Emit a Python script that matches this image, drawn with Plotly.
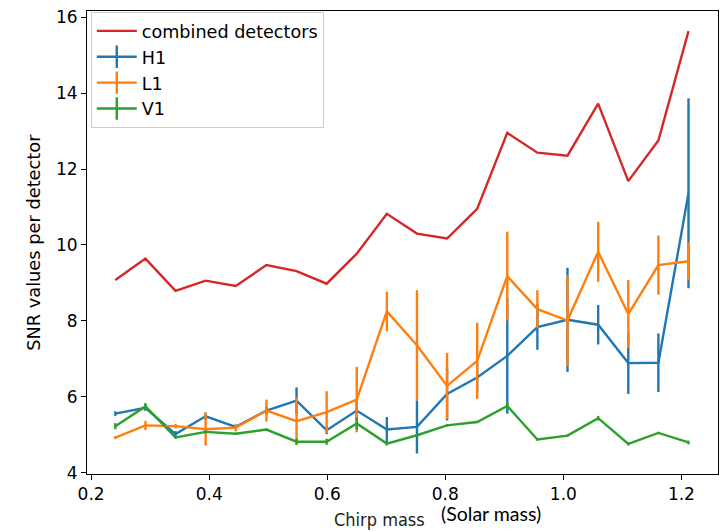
import plotly.graph_objects as go

# Chirp-mass bins (solar mass)
chirp_mass = [0.241, 0.292, 0.343, 0.394, 0.445, 0.497, 0.548, 0.599, 0.650, 0.701,
              0.752, 0.803, 0.854, 0.905, 0.956, 1.007, 1.059, 1.110, 1.161, 1.212]

combined = [9.08, 9.64, 8.79, 9.06, 8.92, 9.47, 9.31, 8.98, 9.77, 10.82,
            10.30, 10.17, 10.95, 12.95, 12.43, 12.35, 13.72, 11.68, 12.75, 15.63]

h1 = [5.56, 5.71, 5.02, 5.49, 5.21, 5.64, 5.90, 5.12, 5.64, 5.14,
      5.21, 6.08, 6.51, 7.08, 7.84, 8.03, 7.90, 6.89, 6.90, 11.36]
h1_err = [0.06, 0.08, 0.08, 0.10, 0.06, 0.10, 0.35, 0.10, 0.30, 0.33,
          0.70, 0.70, 0.40, 1.52, 0.60, 1.37, 0.52, 0.81, 0.77, 2.50]

l1 = [4.93, 5.25, 5.23, 5.15, 5.19, 5.64, 5.36, 5.60, 5.93, 8.25,
      7.36, 6.29, 6.95, 9.18, 8.31, 8.01, 9.82, 8.18, 9.47, 9.57]
l1_err = [0.04, 0.12, 0.06, 0.43, 0.10, 0.29, 0.62, 0.55, 0.86, 0.52,
          1.45, 0.87, 1.00, 1.17, 0.50, 1.20, 0.79, 0.90, 0.78, 0.50]

v1 = [5.23, 5.75, 4.93, 5.08, 5.03, 5.14, 4.82, 4.82, 5.30, 4.77,
      4.99, 5.25, 5.34, 5.76, 4.88, 4.98, 5.44, 4.76, 5.05, 4.80]
v1_err = [0.08, 0.09, 0.03, 0.04, 0.03, 0.03, 0.08, 0.08, 0.16, 0.05,
          0.04, 0.03, 0.03, 0.10, 0.03, 0.03, 0.06, 0.04, 0.03, 0.05]

x_ticks = [0.2, 0.4, 0.6, 0.8, 1.0, 1.2]
x_tick_labels = ["0.2", "0.4", "0.6", "0.8", "1.0", "1.2"]
y_ticks = [4, 6, 8, 10, 12, 14, 16]

RED, BLUE, ORANGE, GREEN = "#d62728", "#1f77b4", "#ff7f0e", "#2ca02c"
LW = 2.4
FONT = "DejaVu Sans"

fig = go.Figure()

fig.add_trace(go.Scatter(x=chirp_mass, y=combined, mode="lines", name="combined detectors",
                         line=dict(color=RED, width=LW), showlegend=True))

for name, ys, errs, col in [("H1", h1, h1_err, BLUE), ("L1", l1, l1_err, ORANGE), ("V1", v1, v1_err, GREEN)]:
    fig.add_trace(go.Scatter(x=chirp_mass, y=ys, mode="lines", name=name, showlegend=False,
                             line=dict(color=col, width=LW),
                             error_y=dict(type="data", array=errs, visible=True,
                                          color=col, thickness=LW, width=0)))

# legend-only entries (line with vertical bar, like matplotlib errorbar handles)
for name, col in [("H1", BLUE), ("L1", ORANGE), ("V1", GREEN)]:
    fig.add_trace(go.Scatter(x=[None], y=[None], mode="lines+markers", name=name,
                             line=dict(color=col, width=LW),
                             marker=dict(symbol="line-ns-open", size=16, color=col,
                                         line=dict(color=col, width=LW))))

fig.update_layout(
    width=728, height=531,
    margin=dict(l=87, r=10, t=7, b=57),
    paper_bgcolor="white", plot_bgcolor="white",
    font=dict(family=FONT, size=17, color="black"),
    showlegend=True,
    legend=dict(x=0.006, y=0.998, xanchor="left", yanchor="top",
                bgcolor="rgba(255,255,255,0.8)", bordercolor="#cccccc", borderwidth=1,
                font=dict(family=FONT, size=17.6, color="black"), tracegroupgap=0,
                itemwidth=40),
    xaxis=dict(range=[0.193, 1.262], tickvals=x_ticks, ticktext=x_tick_labels,
               showgrid=False, zeroline=False, showline=True, mirror=True,
               linecolor="black", linewidth=1, ticks="outside", ticklen=5,
               tickcolor="black", tickfont=dict(family=FONT, size=17, color="black")),
    yaxis=dict(range=[3.97, 16.16], tickvals=y_ticks,
               showgrid=False, zeroline=False, showline=True, mirror=True,
               linecolor="black", linewidth=1, ticks="outside", ticklen=5,
               tickcolor="black", tickfont=dict(family=FONT, size=17, color="black")),
    annotations=[
        dict(text="SNR values per detector", xref="paper", yref="paper", x=-0.085, y=0.5,
             xanchor="center", yanchor="middle", textangle=-90, showarrow=False,
             font=dict(family=FONT, size=17.8, color="black")),
        dict(text="Chirp mass", xref="paper", yref="paper", x=(379 - 87) / 631, y=-(520 - 474) / 467,
             xanchor="center", yanchor="middle", showarrow=False,
             font=dict(family="DejaVu Sans Condensed", size=18, color="#222222")),
        dict(text="(Solar mass)", xref="paper", yref="paper", x=(491 - 87) / 631, y=-(514 - 474) / 467,
             xanchor="center", yanchor="middle", showarrow=False,
             font=dict(family="Lato", size=19.5, color="black")),
    ],
)

fig.write_html("out.html")
